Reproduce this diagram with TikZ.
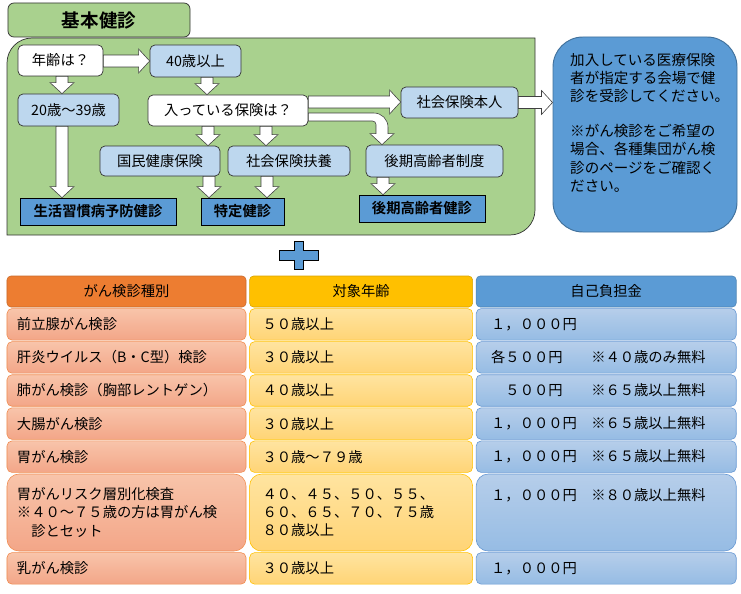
\documentclass[tikz,border=0pt]{standalone}
\usepackage{fontspec}
\setmainfont{Noto Sans CJK JP}[BoldFont={Noto Sans CJK JP Bold}]
\usetikzlibrary{positioning, calc}
\definecolor{kgreen}{RGB}{169,209,142}
\definecolor{lblue}{RGB}{189,215,238}
\definecolor{mblue}{RGB}{91,155,213}
\definecolor{nline}{RGB}{65,113,156}
\definecolor{horange}{RGB}{237,125,49}
\definecolor{hgold}{RGB}{255,192,0}
\definecolor{hblue}{RGB}{91,155,213}
\definecolor{ctopA}{RGB}{248,196,170}
\definecolor{cbotA}{RGB}{243,166,136}
\definecolor{clineA}{RGB}{240,140,80}
\definecolor{ctopB}{RGB}{255,228,160}
\definecolor{cbotB}{RGB}{255,212,118}
\definecolor{clineB}{RGB}{255,192,0}
\definecolor{ctopC}{RGB}{182,206,234}
\definecolor{cbotC}{RGB}{150,188,228}
\definecolor{clineC}{RGB}{100,150,210}

% block arrow sizes
\newcommand{\arrsw}{5.1pt}
\newcommand{\arrhw}{10.2pt}
\newcommand{\arrhl}{9.4pt}
\newcommand{\arrcs}{3.4pt}

% white block arrow, vertical: x, upper node, lower node
\newcommand{\vblock}[3]{%
  \filldraw[blockarr] let \p1=(#1,0 |- #2.south), \p2=(#1,0 |- #3.north) in
    (\x1-\arrsw,\y1) -- (\x1-\arrsw,\y2+\arrhl) -- (\x1-\arrhw,\y2+\arrhl)
    -- (\x1,\y2) -- (\x1+\arrhw,\y2+\arrhl) -- (\x1+\arrsw,\y2+\arrhl)
    -- (\x1+\arrsw,\y1) -- cycle;}
% white block arrow, horizontal: y, left node, right node
\newcommand{\hblock}[3]{%
  \filldraw[blockarr] let \p1=(#2.east |- 0,#1), \p2=(#3.west |- 0,#1) in
    (\x1,\y1+\arrsw) -- (\x2-\arrhl,\y1+\arrsw) -- (\x2-\arrhl,\y1+\arrhw)
    -- (\x2,\y1) -- (\x2-\arrhl,\y1-\arrhw) -- (\x2-\arrhl,\y1-\arrsw)
    -- (\x1,\y1-\arrsw) -- cycle;}

\begin{document}
\begin{tikzpicture}[x=0.03cm, y=0.03cm,
    font=\fontsize{12.2}{15.4}\selectfont,
    wbox/.style={draw=black!80, fill=white, rounded corners=0.15cm,
        line width=0.6pt, inner sep=1pt},
    lbox/.style={wbox, fill=lblue},
    dbox/.style={draw=black, fill=mblue, line width=0.6pt, inner sep=1pt,
        font=\fontsize{12.2}{15.4}\selectfont\bfseries},
    tab/.style={draw=black!80, fill=kgreen, rounded corners=0.18cm,
        line width=0.6pt, minimum width=5.46cm, minimum height=1.02cm,
        font=\fontsize{15.8}{18}\selectfont\bfseries},
    notebox/.style={draw=nline, fill=mblue, rounded corners=0.9cm,
        line width=0.8pt, minimum width=5.52cm, minimum height=5.85cm},
    blockarr/.style={draw=black!75, fill=white, line width=0.5pt, line join=miter},
    hcell/.style={draw=#1!85!black, fill=#1, rounded corners=0.12cm,
        line width=0.5pt, minimum height=0.93cm},
    cA/.style={draw=clineA, top color=ctopA, bottom color=cbotA,
        rounded corners=0.15cm, line width=0.5pt, minimum height=0.945cm,
        text width=6.57cm, inner xsep=0.3cm, align=left},
    cB/.style={draw=clineB, top color=ctopB, bottom color=cbotB,
        rounded corners=0.15cm, line width=0.5pt, minimum height=0.945cm,
        text width=5.91cm, inner xsep=0.39cm, align=left},
    cC/.style={draw=clineC, top color=ctopC, bottom color=cbotC,
        rounded corners=0.15cm, line width=0.5pt, minimum height=0.945cm,
        text width=6.9cm, inner xsep=0.45cm, align=left}
  ]
  \useasboundingbox (0,0) rectangle (741,-593);

  % green panel
  \draw[draw=black!80, fill=kgreen, line width=0.6pt]
    (7,-235) -- (7,-63) arc[start angle=180, end angle=90, radius=25]
    -- (535,-38) -- (535,-210) arc[start angle=0, end angle=-90, radius=25]
    -- cycle;
  \node[tab] (kihon) at (99,-20) {基本健診};

  % flow
  \node[wbox, minimum width=2.55cm, minimum height=0.93cm] (age) at (60.5,-60.5) {年齢は？};
  \node[lbox, minimum width=2.73cm, minimum height=0.96cm] (over40) at (195.5,-61) {40歳以上};
  \node[lbox, minimum width=3.03cm, minimum height=0.96cm] (young) at (68.5,-110) {20歳～39歳};
  \node[wbox, minimum width=4.8cm, minimum height=0.93cm] (ins) at (228,-110.5) {入っている保険は？};
  \node[lbox, minimum width=3.51cm, minimum height=0.93cm] (honnin) at (459.5,-102.5) {社会保険本人};
  \node[lbox, minimum width=3.6cm, minimum height=0.9cm] (kokumin) at (160,-161) {国民健康保険};
  \node[lbox, minimum width=3.66cm, minimum height=0.9cm] (fuyou) at (289,-161) {社会保険扶養};
  \node[lbox, minimum width=4.11cm, minimum height=0.96cm] (kouki) at (434.5,-161) {後期高齢者制度};
  \node[dbox, minimum width=4.68cm, minimum height=0.81cm] (seikatsu) at (98,-211.5) {生活習慣病予防健診};
  \node[dbox, minimum width=2.49cm, minimum height=0.81cm] (tokutei) at (242.5,-211.5) {特定健診};
  \node[dbox, minimum width=3.78cm, minimum height=0.81cm] (koukiken) at (422,-208.5) {後期高齢者健診};

  \node[notebox] (note) at (645,-134.5) {};
  \node[anchor=north west, align=left, inner sep=0,
    font=\fontsize{12.4}{15.6}\selectfont] (notetxt) at (570,-53)
    {加入している医療保険\\者が指定する会場で健\\診を受診してください。\\[14pt]%
     ※がん検診をご希望の\\場合、各種集団がん検\\診のページをご確認く\\ださい。};

  \hblock{-61}{age}{over40}
  \vblock{62}{age}{young}
  \vblock{207}{over40}{ins}
  \vblock{62}{young}{seikatsu}
  \vblock{208}{ins}{kokumin}
  \vblock{266}{ins}{fuyou}
  \hblock{-102}{ins}{honnin}
  \filldraw[blockarr] let \p1=(ins.east |- 0,-117), \p2=(382,0 |- kouki.north) in
    (\x1,\y1+\arrcs) -- (\x2+\arrsw-12pt,\y1+\arrcs)
    arc[start angle=90, end angle=0, radius=12pt]
    -- (\x2+\arrsw,\y2+\arrhl) -- (\x2+\arrhw,\y2+\arrhl) -- (\x2,\y2)
    -- (\x2-\arrhw,\y2+\arrhl) -- (\x2-\arrsw,\y2+\arrhl)
    -- (\x2-\arrsw,\y1-\arrcs-3pt) arc[start angle=0, end angle=90, radius=3pt]
    -- (\x1,\y1-\arrcs) -- cycle;
  \hblock{-102.5}{honnin}{note}
  \vblock{209}{kokumin}{tokutei}
  \vblock{267}{fuyou}{tokutei}
  \vblock{383}{kouki}{koukiken}

  % plus
  \filldraw[fill=mblue, draw=black, line width=0.8pt]
    (279,-250.5) -- (294,-250.5) -- (294,-241) -- (303,-241) -- (303,-250.5)
    -- (318,-250.5) -- (318,-260.5) -- (303,-260.5) -- (303,-269)
    -- (294,-269) -- (294,-260.5) -- (279,-260.5) -- cycle;

  % table
  \node[hcell=horange, minimum width=7.17cm] (h1) at (126.5,-291.5) {がん検診種別};
  \node[hcell=hgold, minimum width=6.69cm, right=0.09cm of h1] (h2) {対象年齢};
  \node[hcell=hblue, minimum width=7.8cm, right=0.09cm of h2] (h3) {自己負担金};

  \node[cA, below=0.03cm of h1] (r1a) {前立腺がん検診};
  \node[cB, right=0.09cm of r1a] (r1b) {５０歳以上};
  \node[cC, right=0.09cm of r1b] (r1c) {１，０００円};

  \node[cA, below=0.03cm of r1a] (r2a) {肝炎ウイルス（B・C型）検診};
  \node[cB, right=0.09cm of r2a] (r2b) {３０歳以上};
  \node[cC, right=0.09cm of r2b] (r2c) {各５００円　　※４０歳のみ無料};

  \node[cA, below=0.03cm of r2a] (r3a) {肺がん検診（胸部レントゲン）};
  \node[cB, right=0.09cm of r3a] (r3b) {４０歳以上};
  \node[cC, right=0.09cm of r3b] (r3c) {　５００円　　※６５歳以上無料};

  \node[cA, below=0.03cm of r3a] (r4a) {大腸がん検診};
  \node[cB, right=0.09cm of r4a] (r4b) {３０歳以上};
  \node[cC, right=0.09cm of r4b] (r4c) {１，０００円　※６５歳以上無料};

  \node[cA, below=0.03cm of r4a] (r5a) {胃がん検診};
  \node[cB, right=0.09cm of r5a] (r5b) {３０歳～７９歳};
  \node[cC, right=0.09cm of r5b] (r5c) {１，０００円　※６５歳以上無料};

  \node[cA, below=0.03cm of r5a, minimum height=2.31cm, rounded corners=0.36cm] (r6a)
    {胃がんリスク層別化検査\\※４０～７５歳の方は胃がん検\\　診とセット};
  \node[cB, right=0.09cm of r6a, minimum height=2.31cm, rounded corners=0.36cm] (r6b)
    {４０、４５、５０、５５、\\６０、６５、７０、７５歳\\８０歳以上};
  \node[cC, right=0.09cm of r6b, minimum height=2.31cm, rounded corners=0.36cm] (r6c)
    {１，０００円　※８０歳以上無料\\\mbox{}\\\mbox{}};

  \node[cA, below=0.03cm of r6a] (r7a) {乳がん検診};
  \node[cB, right=0.09cm of r7a] (r7b) {３０歳以上};
  \node[cC, right=0.09cm of r7b] (r7c) {１，０００円};
\end{tikzpicture}
\end{document}
